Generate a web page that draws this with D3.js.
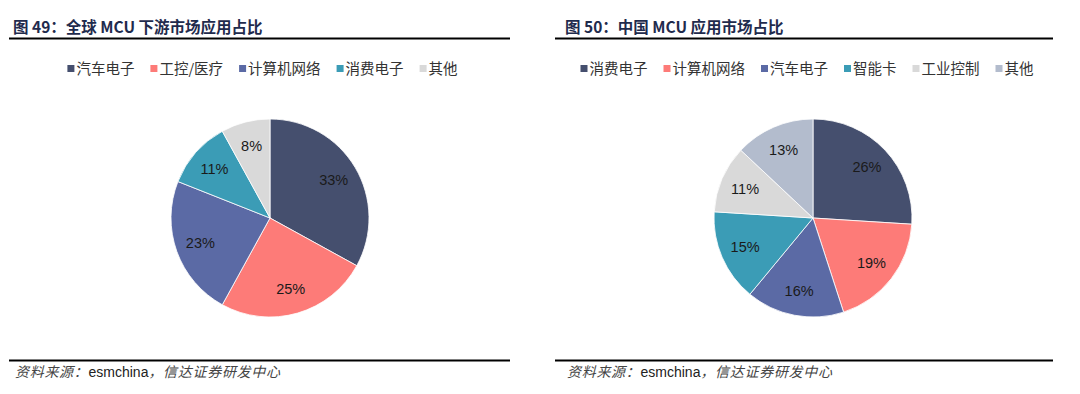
<!DOCTYPE html>
<html><head><meta charset="utf-8">
<script src="https://cdn.jsdelivr.net/npm/d3@7"></script>
<style>
html,body{margin:0;padding:0;background:#fff;}
svg{display:block;}
</style></head>
<body>
<svg id="c" width="1080" height="394"></svg>
<script>
// Data
const titles = ["图 49：全球 MCU 下游市场应用占比", "图 50：中国 MCU 应用市场占比"];
const sourceParts = ["资料来源：", "esmchina", "，信达证券研发中心"];
const cats1 = ["汽车电子", "工控/医疗", "计算机网络", "消费电子", "其他"];
const vals1 = [33, 25, 23, 11, 8];
const cats2 = ["消费电子", "计算机网络", "汽车电子", "智能卡", "工业控制", "其他"];
const vals2 = [26, 19, 16, 15, 11, 13];
const colors1 = ["#454f6e", "#fd7b78", "#5b6aa5", "#3b9cb6", "#d9d9d9"];
const colors2 = ["#454f6e", "#fd7b78", "#5b6aa5", "#3b9cb6", "#d9d9d9", "#b3bccd"];

const svg = d3.select("#c");
const FONT = "'Noto Sans CJK SC', 'Noto Sans', sans-serif";

const panels = [
  {x0: 9, x1: 510, cx: 270, cats: cats1, vals: vals1, colors: colors1, title: titles[0], tx: 13},
  {x0: 555, x1: 1053, cx: 813, cats: cats2, vals: vals2, colors: colors2, title: titles[1], tx: 565}
];

panels.forEach(p => {
  const g = svg.append("g");
  // title
  g.append("text").attr("x", p.tx).attr("y", 33)
    .attr("font-family", FONT).attr("font-weight", 700).attr("font-size", 15.5)
    .attr("fill", "#1f2b4d").text(p.title);
  g.append("line").attr("x1", p.x0).attr("x2", p.x1).attr("y1", 38.5).attr("y2", 38.5)
    .attr("stroke", "#000").attr("stroke-width", 2);

  // legend
  const lg = g.append("g");
  let x = 0;
  p.cats.forEach((c, i) => {
    const it = lg.append("g").attr("transform", `translate(${x},0)`);
    it.append("rect").attr("x", 0).attr("y", -4).attr("width", 7).attr("height", 7).attr("fill", p.colors[i]);
    const t = it.append("text").attr("x", 9).attr("y", 0).attr("dy", "0.35em")
      .attr("font-family", FONT).attr("font-size", 14.5).attr("fill", "#333").text(c);
    const w = t.node().getComputedTextLength();
    x += 9 + w + 16;
  });
  const totalW = x - 16;
  const mid = (p.x0 + p.x1) / 2 + 3;
  lg.attr("transform", `translate(${mid - totalW/2},69)`);

  // pie
  const r = 99;
  const pie = d3.pie().sort(null).value(d => d);
  const arc = d3.arc().innerRadius(0).outerRadius(r);
  const labelArc = d3.arc().innerRadius(74).outerRadius(74);
  const pg = g.append("g").attr("transform", `translate(${p.cx},218)`);
  const arcs = pie(p.vals);
  pg.selectAll("path").data(arcs).join("path")
    .attr("d", arc).attr("fill", (d, i) => p.colors[i])
    .attr("stroke", "#fff").attr("stroke-width", 0.8);
  pg.selectAll("text").data(arcs).join("text")
    .attr("transform", d => `translate(${labelArc.centroid(d)})`)
    .attr("text-anchor", "middle").attr("dy", "0.35em")
    .attr("font-family", "'Liberation Sans', Arial, sans-serif").attr("font-size", 14.5)
    .attr("fill", "#1a1a1a").text(d => d.data + "%");

  // source
  g.append("line").attr("x1", p.x0).attr("x2", p.x1).attr("y1", 360.5).attr("y2", 360.5)
    .attr("stroke", "#000").attr("stroke-width", 2);
  const st = g.append("text").attr("x", p.tx + 2).attr("y", 377)
    .attr("font-family", FONT).attr("font-size", 14).attr("letter-spacing", 0.7)
    .attr("fill", "#444");
  st.append("tspan").attr("font-style", "italic").text(sourceParts[0]);
  st.append("tspan").attr("font-family", "'Liberation Sans', Arial, sans-serif").attr("fill", "#222").attr("letter-spacing", 0).text(sourceParts[1]);
  st.append("tspan").attr("font-style", "italic").text(sourceParts[2]);
});
</script>
</body></html>
